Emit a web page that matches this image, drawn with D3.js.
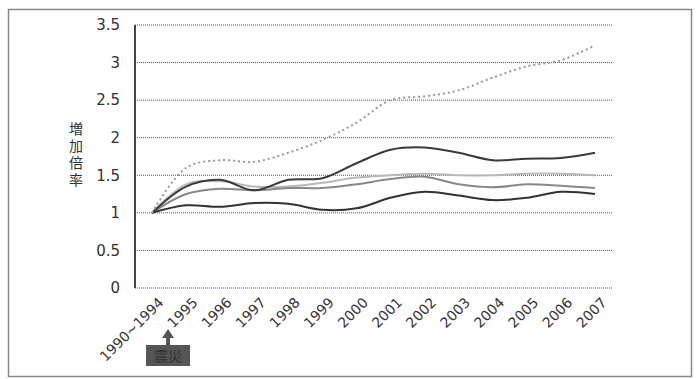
<!DOCTYPE html>
<html>
<head>
<meta charset="utf-8">
<script src="https://cdn.jsdelivr.net/npm/d3@7"></script>
<style>
  body { margin: 0; background: #fff; }
  text { font-family: "Noto Sans CJK JP", "DejaVu Sans", sans-serif; fill: #333; }
</style>
</head>
<body>
<div id="chart"></div>
<script>
// categories and values
var years = ["1990~1994", "1995", "1996", "1997", "1998", "1999", "2000",
             "2001", "2002", "2003", "2004", "2005", "2006", "2007"];
var yTicks = [0, 0.5, 1, 1.5, 2, 2.5, 3, 3.5];

var seriesDotted = [1, 1.6, 1.7, 1.68, 1.8, 1.97, 2.2, 2.5, 2.55, 2.63, 2.8, 2.95, 3.03, 3.23];
var seriesA = [1, 1.35, 1.44, 1.3, 1.44, 1.46, 1.66, 1.84, 1.87, 1.8, 1.7, 1.72, 1.73, 1.8];
var seriesLight = [1, 1.38, 1.42, 1.35, 1.35, 1.4, 1.47, 1.5, 1.52, 1.5, 1.5, 1.52, 1.52, 1.5];
var seriesMid = [1, 1.25, 1.32, 1.3, 1.33, 1.33, 1.38, 1.45, 1.48, 1.38, 1.34, 1.38, 1.36, 1.33];
var seriesB = [1, 1.1, 1.08, 1.13, 1.12, 1.04, 1.06, 1.2, 1.28, 1.23, 1.17, 1.2, 1.28, 1.25];

var yLabel = "増加倍率";
var noteLabel = "震災";

var W = 699, H = 379;
var margin = { top: 25, right: 87, bottom: 91, left: 135 },
    width = W - margin.left - margin.right,
    height = H - margin.top - margin.bottom;

var root = d3.select("#chart").append("svg")
  .attr("width", W).attr("height", H);

// outer frame
root.append("rect")
  .attr("x", 8.5).attr("y", 9.5).attr("width", 683).attr("height", 367)
  .attr("fill", "none").attr("stroke", "#888").attr("stroke-width", 1.5);

var svg = root.append("g")
  .attr("transform", "translate(" + margin.left + "," + margin.top + ")");

var x = d3.scaleBand().domain(years).range([0, width]);
var y = d3.scaleLinear().domain([0, 3.5]).range([height, 0]);

// gridlines
svg.selectAll("line.grid")
  .data(yTicks)
  .enter().append("line")
  .attr("class", "grid")
  .attr("x1", 0).attr("x2", width)
  .attr("y1", function(d) { return y(d); })
  .attr("y2", function(d) { return y(d); })
  .attr("stroke", "#555").attr("stroke-width", 1)
  .attr("stroke-dasharray", "1,1");

// left axis line + tick labels
svg.append("line")
  .attr("x1", 0).attr("x2", 0).attr("y1", 0).attr("y2", height)
  .attr("stroke", "#444").attr("stroke-width", 2);

var yAxis = d3.axisLeft(y).tickValues(yTicks).tickSize(0).tickPadding(15)
  .tickFormat(d3.format("~g"));
var gy = svg.append("g").call(yAxis);
gy.select(".domain").remove();
gy.selectAll("text")
  .style("font-family", "'DejaVu Sans', sans-serif")
  .style("font-size", "15px").attr("fill", "#444");

// x axis rotated labels
var xAxis = d3.axisBottom(x).tickSize(0).tickPadding(0);
var gx = svg.append("g").attr("transform", "translate(0," + height + ")").call(xAxis);
gx.select(".domain").remove();
gx.selectAll("text")
  .style("font-family", "'DejaVu Sans', sans-serif")
  .style("font-size", "14px").attr("fill", "#444")
  .attr("text-anchor", "end")
  .attr("dy", "0.35em")
  .attr("transform", "translate(9,12) rotate(-45)");

// y axis title, vertical
root.append("text")
  .attr("x", 76).attr("y", 122)
  .style("writing-mode", "vertical-rl")
  .style("text-orientation", "upright")
  .style("letter-spacing", "3px")
  .style("font-size", "14px").attr("fill", "#444")
  .text(yLabel);

// lines
var line = d3.line()
  .x(function(d, i) { return x(years[i]) + x.bandwidth() / 2; })
  .y(function(d) { return y(d); })
  .curve(d3.curveCatmullRom);

var lines = [
  { values: seriesLight, color: "#b8b8b8", width: 2, dash: null },
  { values: seriesMid, color: "#888", width: 2, dash: null },
  { values: seriesB, color: "#333", width: 2, dash: null },
  { values: seriesA, color: "#3a3a3a", width: 2, dash: null },
  { values: seriesDotted, color: "#999", width: 2, dash: "2,3" }
];

svg.selectAll("path.series")
  .data(lines)
  .enter().append("path")
  .attr("class", "series")
  .attr("d", function(d) { return line(d.values); })
  .attr("fill", "none")
  .attr("stroke", function(d) { return d.color; })
  .attr("stroke-width", function(d) { return d.width; })
  .attr("stroke-dasharray", function(d) { return d.dash; });

// earthquake note under the axis
var nx = margin.left + x(years[0]) + x.bandwidth() / 2 + 16;
var note = root.append("g").attr("transform", "translate(" + nx + ",0)");
note.append("path")
  .attr("d", "M0,329 L-6,338 L-2,338 L-2,345 L2,345 L2,338 L6,338 Z")
  .attr("fill", "#555");
note.append("rect")
  .attr("x", -22).attr("y", 345).attr("width", 44).attr("height", 21)
  .attr("fill", "#555");
note.append("text")
  .attr("x", 0).attr("y", 361)
  .attr("text-anchor", "middle")
  .style("font-size", "14px").attr("fill", "#eee")
  .text(noteLabel);
</script>
</body>
</html>
